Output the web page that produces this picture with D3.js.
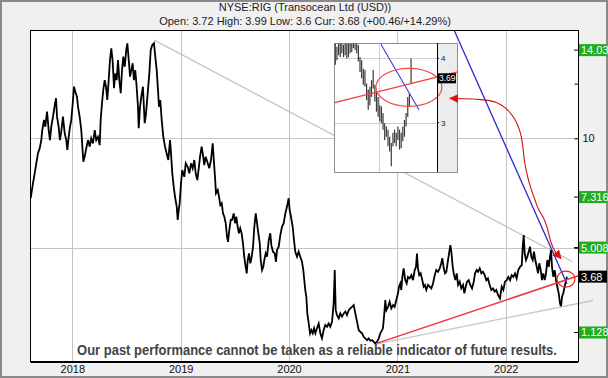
<!DOCTYPE html>
<html>
<head>
<meta charset="utf-8">
<script src="https://cdn.jsdelivr.net/npm/d3@7"></script>
<style>
  body { margin: 0; background: #fff; }
  svg { display: block; font-family: "Liberation Sans", Arial, sans-serif; }
</style>
</head>
<body>
<div id="chart"></div>
<script>
// main series: decimal years and closing prices
const years = [
  2017.616, 2017.637, 2017.653, 2017.668, 2017.683, 2017.699, 2017.714, 2017.723, 2017.739, 2017.751,
  2017.767, 2017.782, 2017.794, 2017.806, 2017.822, 2017.838, 2017.850, 2017.859, 2017.874, 2017.886,
  2017.898, 2017.914, 2017.930, 2017.945, 2017.954, 2017.967, 2017.979, 2017.991, 2018.004, 2018.016,
  2018.028, 2018.043, 2018.053, 2018.068, 2018.083, 2018.092, 2018.102, 2018.114, 2018.129, 2018.145,
  2018.161, 2018.175, 2018.191, 2018.207, 2018.221, 2018.237, 2018.253, 2018.262, 2018.274, 2018.286,
  2018.299, 2018.311, 2018.323, 2018.336, 2018.348, 2018.360, 2018.373, 2018.385, 2018.397, 2018.410,
  2018.422, 2018.434, 2018.447, 2018.459, 2018.471, 2018.484, 2018.498, 2018.508, 2018.521, 2018.533,
  2018.545, 2018.557, 2018.569, 2018.581, 2018.594, 2018.606, 2018.613, 2018.625, 2018.637, 2018.652,
  2018.668, 2018.677, 2018.683, 2018.711, 2018.724, 2018.738, 2018.754, 2018.766, 2018.779, 2018.791,
  2018.800, 2018.812, 2018.825, 2018.840, 2018.856, 2018.871, 2018.886, 2018.902, 2018.911, 2018.923,
  2018.936, 2018.948, 2018.964, 2018.973, 2018.982, 2018.991, 2019.003, 2019.015, 2019.034, 2019.047,
  2019.065, 2019.080, 2019.096, 2019.111, 2019.126, 2019.139, 2019.154, 2019.167, 2019.179, 2019.194,
  2019.206, 2019.218, 2019.231, 2019.250, 2019.264, 2019.280, 2019.296, 2019.308, 2019.317, 2019.326,
  2019.342, 2019.354, 2019.366, 2019.379, 2019.391, 2019.403, 2019.416, 2019.428, 2019.437, 2019.449,
  2019.462, 2019.474, 2019.490, 2019.502, 2019.514, 2019.526, 2019.538, 2019.550, 2019.563, 2019.575,
  2019.587, 2019.600, 2019.610, 2019.619, 2019.631, 2019.643, 2019.656, 2019.668, 2019.680, 2019.693,
  2019.705, 2019.717, 2019.730, 2019.739, 2019.751, 2019.763, 2019.772, 2019.785, 2019.797, 2019.813,
  2019.827, 2019.837, 2019.852, 2019.868, 2019.880, 2019.889, 2019.905, 2019.920, 2019.935, 2019.951,
  2019.966, 2019.981, 2019.997, 2020.006, 2020.018, 2020.034, 2020.046, 2020.058, 2020.074, 2020.089,
  2020.104, 2020.120, 2020.132, 2020.141, 2020.150, 2020.160, 2020.169, 2020.182, 2020.194, 2020.206,
  2020.219, 2020.231, 2020.243, 2020.258, 2020.274, 2020.289, 2020.304, 2020.320, 2020.335, 2020.351,
  2020.366, 2020.381, 2020.397, 2020.412, 2020.422, 2020.431, 2020.443, 2020.459, 2020.473, 2020.489,
  2020.505, 2020.520, 2020.535, 2020.551, 2020.566, 2020.581, 2020.597, 2020.612, 2020.628, 2020.643,
  2020.658, 2020.674, 2020.689, 2020.704, 2020.720, 2020.735, 2020.750, 2020.766, 2020.782, 2020.796,
  2020.812, 2020.828, 2020.843, 2020.867, 2020.877, 2020.889, 2020.898, 2020.914, 2020.929, 2020.944,
  2020.960, 2020.975, 2020.990, 2021.006, 2021.015, 2021.027, 2021.036, 2021.046, 2021.058, 2021.073,
  2021.086, 2021.098, 2021.114, 2021.129, 2021.144, 2021.160, 2021.172, 2021.181, 2021.190, 2021.202,
  2021.215, 2021.230, 2021.243, 2021.255, 2021.267, 2021.283, 2021.298, 2021.313, 2021.329, 2021.345,
  2021.359, 2021.375, 2021.391, 2021.405, 2021.415, 2021.428, 2021.440, 2021.452, 2021.465, 2021.477,
  2021.489, 2021.498, 2021.511, 2021.523, 2021.535, 2021.548, 2021.560, 2021.575, 2021.590, 2021.606,
  2021.618, 2021.631, 2021.643, 2021.658, 2021.673, 2021.689, 2021.705, 2021.717, 2021.732, 2021.744,
  2021.760, 2021.775, 2021.790, 2021.806, 2021.821, 2021.836, 2021.852, 2021.867, 2021.883, 2021.898,
  2021.913, 2021.929, 2021.947, 2021.963, 2021.978, 2021.993, 2022.009, 2022.024, 2022.040, 2022.055,
  2022.070, 2022.086, 2022.101, 2022.116, 2022.132, 2022.148, 2022.157, 2022.166, 2022.175, 2022.187,
  2022.199, 2022.212, 2022.224, 2022.236, 2022.249, 2022.261, 2022.273, 2022.286, 2022.298, 2022.310,
  2022.323, 2022.335, 2022.347, 2022.360, 2022.372, 2022.384, 2022.397, 2022.409, 2022.418, 2022.427,
  2022.439, 2022.452, 2022.464, 2022.476, 2022.489, 2022.501, 2022.510, 2022.520, 2022.531, 2022.544,
  2022.556, 2022.566
];
const prices = [
  7.26, 7.94, 8.40, 8.86, 9.31, 9.54, 9.92, 10.38, 10.84, 10.53,
  11.22, 10.38, 9.92, 10.53, 10.99, 11.52, 11.83, 10.99, 10.53, 9.92,
  10.30, 10.99, 10.23, 9.92, 9.47, 10.07, 10.53, 10.84, 11.60, 12.36,
  12.13, 11.90, 11.44, 10.99, 10.38, 9.69, 8.93, 9.16, 9.54, 9.92,
  9.62, 10.00, 9.77, 10.38, 9.92, 10.07, 9.69, 10.84, 11.60, 12.21,
  12.66, 12.36, 11.75, 12.66, 13.58, 14.11, 13.50, 12.29, 12.97, 12.66,
  13.58, 12.66, 12.06, 13.12, 13.73, 13.27, 14.04, 14.34, 13.58, 12.82,
  13.12, 13.43, 12.66, 13.12, 12.36, 11.44, 10.46, 11.44, 11.90, 12.36,
  10.69, 10.99, 11.29, 12.97, 14.04, 14.26, 14.34, 13.73, 13.12, 12.21,
  11.44, 11.75, 10.84, 10.07, 9.62, 9.31, 9.01, 9.92, 9.31, 8.40,
  7.79, 7.33, 6.87, 6.27, 6.72, 7.03, 7.94, 8.55, 8.24, 8.86,
  8.70, 8.40, 8.86, 8.63, 9.01, 8.40, 8.09, 8.63, 9.16, 9.62,
  9.24, 8.78, 9.16, 8.86, 8.63, 9.01, 9.77, 8.86, 8.24, 7.49,
  7.64, 7.33, 6.95, 7.03, 6.57, 6.42, 6.12, 5.50, 5.27, 5.81,
  6.27, 6.27, 6.57, 6.12, 6.42, 5.96, 5.66, 5.89, 5.66, 5.20,
  4.59, 4.13, 3.83, 4.44, 4.74, 4.29, 4.59, 5.05, 5.96, 6.57,
  6.12, 5.66, 5.20, 4.44, 3.98, 4.13, 4.44, 4.74, 4.59, 5.35,
  5.66, 5.12, 4.82, 4.74, 4.36, 4.89, 5.05, 5.58, 5.96, 6.12,
  6.57, 6.87, 7.26, 6.72, 6.42, 5.96, 5.35, 4.82, 4.59, 4.82,
  4.59, 4.36, 3.98, 3.52, 3.07, 2.76, 2.00, 1.54, 1.09, 1.24,
  1.09, 1.32, 1.09, 1.32, 1.54, 1.09, 0.86, 1.24, 1.47, 1.39,
  1.54, 1.39, 1.62, 2.46, 3.98, 2.15, 1.92, 1.77, 2.00, 1.85,
  2.00, 2.08, 1.92, 2.15, 2.23, 2.30, 2.38, 2.00, 1.62, 1.24,
  1.16, 1.09, 0.93, 0.86, 0.78, 0.86, 0.75, 0.78, 0.70, 0.63,
  0.70, 0.86, 1.09, 1.32, 1.85, 2.61, 2.15, 2.30, 2.53, 2.23,
  2.38, 2.30, 2.61, 2.92, 3.22, 3.37, 3.07, 3.67, 4.06, 3.52,
  3.37, 3.67, 3.60, 3.75, 3.52, 3.98, 4.13, 4.74, 4.06, 3.75,
  3.83, 3.52, 3.22, 3.30, 3.07, 3.30, 3.22, 3.14, 3.37, 3.75,
  3.98, 3.90, 4.06, 4.29, 4.52, 4.06, 3.83, 3.90, 4.36, 4.74,
  5.12, 4.82, 4.13, 3.75, 3.52, 3.83, 3.30, 3.45, 3.14, 3.30,
  2.92, 3.22, 3.45, 3.52, 3.30, 3.14, 3.45, 3.83, 3.98, 3.90,
  4.06, 3.83, 3.90, 3.75, 3.52, 3.60, 3.30, 3.07, 3.14, 2.99,
  3.07, 2.84, 2.69, 3.22, 3.07, 3.45, 3.52, 3.67, 3.52, 3.75,
  3.67, 3.83, 3.60, 3.98, 4.13, 4.21, 5.05, 5.58, 4.74, 4.44,
  4.59, 4.82, 5.05, 4.59, 4.44, 4.82, 4.44, 4.13, 3.83, 4.29,
  3.98, 3.52, 3.83, 3.52, 3.83, 4.44, 4.13, 4.59, 4.89, 4.13,
  3.67, 3.98, 3.52, 3.22, 2.92, 2.46, 2.30, 2.76, 2.92, 3.22,
  3.52, 3.68
];

// inset: last daily bars (high / low)
const insetHigh = [
  4.23, 4.18, 4.23, 4.23, 4.23, 4.21, 4.23, 4.23, 4.23, 4.23,
  4.23, 4.23, 4.23, 4.23, 4.21, 4.02, 3.97, 3.84, 3.82, 3.61,
  3.51, 3.56, 3.66, 3.82, 3.59, 3.48, 3.40, 3.27, 3.25, 3.15,
  2.99, 2.94, 2.89, 2.78, 2.68, 2.84, 2.89, 2.84, 2.94, 2.89,
  2.84, 2.94, 3.04, 3.15, 3.40, 3.46, 4.00
];
const insetLow = [
  3.90, 3.97, 4.05, 4.02, 4.08, 4.02, 4.05, 4.00, 4.02, 4.08,
  4.10, 4.16, 4.13, 4.08, 3.95, 3.79, 3.69, 3.59, 3.56, 3.35,
  3.20, 3.27, 3.40, 3.53, 3.33, 3.17, 3.09, 3.02, 2.99, 2.89,
  2.73, 2.78, 2.63, 2.55, 2.32, 2.63, 2.68, 2.63, 2.73, 2.58,
  2.60, 2.71, 2.78, 2.94, 3.09, 3.25, 3.61
];
const insetLast = "3.69";
const insetTicks = [3, 4];
const insetMonthStart = [26.5];

// axis and level labels
const yearTicks = [2018, 2019, 2020, 2021, 2022];
const gridPrices = [5, 10];
const axisTicks = [5, 10, 12.5];
const axisLabelled = [10];
const levelValues = [14.03, 7.316, 5.008, 1.128];
const levelLabels = ["14.03", "7.316", "5.008", "1.128"];
const currentPrice = 3.68;

// drawn trend lines, [year, price]
const upperGray = [[2018.757, 14.49], [2022.618, 4.36]];
const lowerGray = [[2020.803, 0.60], [2022.806, 2.59]];
const redTrend = [[2020.809, 0.63], [2022.732, 3.82]];
const blueTrend = [[2021.48, 15.43], [2022.566, 3.34]];
const redCurve = [
  [2021.486, 11.83], [2021.809, 11.78], [2021.917, 11.67], [2022.009, 11.37],
  [2022.086, 10.91], [2022.132, 10.38], [2022.157, 9.77], [2022.169, 9.01],
  [2022.194, 8.40], [2022.225, 7.79], [2022.271, 7.18], [2022.301, 6.72],
  [2022.347, 6.42], [2022.384, 5.96], [2022.415, 5.20], [2022.455, 4.82],
  [2022.510, 4.51]
];
const ring = [2022.556, 3.57];

// inset drawn lines, [bar index, price]
const insetBlue = [[27.7, 4.22], [50.8, 3.20]];
const insetRed = [[-0.4, 3.31], [74.3, 3.79]];
const insetRing = [44.7, 3.55];

const W = 608, H = 378;
const plot = { left: 31, right: 578, top: 30, bottom: 362 };

const svg = d3.select("#chart").append("svg")
  .attr("width", W).attr("height", H);

const defs = svg.append("defs");
defs.append("clipPath").attr("id", "plotClip").append("rect")
  .attr("x", plot.left).attr("y", plot.top)
  .attr("width", plot.right - plot.left).attr("height", plot.bottom - plot.top);
defs.append("marker")
  .attr("id", "arrow")
  .attr("viewBox", "0 0 10 10")
  .attr("refX", 9).attr("refY", 5)
  .attr("markerWidth", 9).attr("markerHeight", 9)
  .attr("markerUnits", "userSpaceOnUse")
  .attr("orient", "auto-start-reverse")
  .append("path").attr("d", "M0,0 L10,5 L0,10 Z").attr("fill", "#e01010");

// frame
svg.append("rect").attr("x", 1).attr("y", 1).attr("width", W - 2).attr("height", H - 2)
  .attr("fill", "#f0f0f0").attr("stroke", "#8a8a8a").attr("stroke-width", 2);
svg.append("rect").attr("x", plot.left).attr("y", plot.top)
  .attr("width", plot.right - plot.left).attr("height", plot.bottom - plot.top)
  .attr("fill", "#fff");

// title
svg.append("text").attr("x", 305).attr("y", 11).attr("text-anchor", "middle")
  .style("font-size", "11px").attr("fill", "#222").text("NYSE:RIG (Transocean Ltd (USD))");
svg.append("text").attr("x", 305).attr("y", 25).attr("text-anchor", "middle")
  .style("font-size", "11px").attr("fill", "#222")
  .text("Open: 3.72 High: 3.99 Low: 3.6 Cur: 3.68 (+00.46/+14.29%)");

// scales
const x = d3.scaleLinear().domain([2017.619, 2022.667]).range([plot.left, plot.right]);
const y = d3.scaleLinear().domain([-0.22, 14.95]).range([plot.bottom, plot.top]);

// grid
const grid = svg.append("g").attr("stroke", "#c4c4c4").attr("stroke-width", 1);
grid.selectAll("line.v").data(yearTicks).join("line").attr("class", "v")
  .attr("x1", d => Math.round(x(d)) + 0.5).attr("x2", d => Math.round(x(d)) + 0.5)
  .attr("y1", plot.top).attr("y2", plot.bottom);
grid.selectAll("line.h").data(gridPrices).join("line").attr("class", "h")
  .attr("x1", plot.left).attr("x2", plot.right)
  .attr("y1", d => Math.round(y(d)) + 0.5).attr("y2", d => Math.round(y(d)) + 0.5);

const line = d3.line().x(d => x(d[0])).y(d => y(d[1]));
const clipped = svg.append("g").attr("clip-path", "url(#plotClip)");

// upper gray trend line
clipped.append("path").attr("d", line(upperGray))
  .attr("stroke", "#c9c5ba").attr("stroke-width", 1.3).attr("fill", "none");

// price
const series = years.map((yr, i) => [yr, prices[i]]);
clipped.append("path").attr("d", line(series))
  .attr("fill", "none").attr("stroke", "#000").attr("stroke-width", 1.8)
  .attr("stroke-linejoin", "miter");

// lower gray and red support lines
svg.append("path").attr("d", line(lowerGray))
  .attr("stroke", "#c9c5ba").attr("stroke-width", 1.3).attr("fill", "none");
svg.append("path").attr("d", line(redTrend))
  .attr("stroke", "#ee3535").attr("stroke-width", 1.5).attr("fill", "none");
clipped.append("path").attr("d", line(blueTrend))
  .attr("stroke", "#2c2cd0").attr("stroke-width", 1.3).attr("fill", "none");

// axes borders
const border = svg.append("g").attr("stroke", "#000");
border.append("line").attr("x1", plot.left - 0.5).attr("x2", plot.right).attr("y1", plot.top + 0.5).attr("y2", plot.top + 0.5);
border.append("line").attr("x1", plot.left - 0.5).attr("x2", plot.left - 0.5).attr("y1", plot.top).attr("y2", plot.bottom);
border.append("line").attr("x1", plot.left - 0.5).attr("x2", plot.right).attr("y1", plot.bottom).attr("y2", plot.bottom).attr("stroke-width", 2);

// bottom axis labels
const xAxis = svg.append("g").attr("transform", `translate(0,${plot.bottom})`)
  .call(d3.axisBottom(x).tickValues(yearTicks).tickFormat(d3.format("d")).tickSize(0).tickPadding(3));
xAxis.select(".domain").remove();
xAxis.selectAll("text").style("font-size", "11px").attr("fill", "#111")
  .style("font-family", "Liberation Sans, Arial, sans-serif");

// right axis
const yAxis = svg.append("g").attr("transform", `translate(${plot.right + 0.5},0)`)
  .call(d3.axisRight(y).tickValues(axisTicks).tickSizeInner(-4).tickSizeOuter(0).tickPadding(4)
    .tickFormat(d => axisLabelled.includes(d) ? d3.format("d")(d) : ""));
yAxis.select(".domain").attr("d", `M0,${plot.top}V${plot.bottom}`).attr("stroke", "#000");
yAxis.selectAll("text").style("font-size", "11px").attr("fill", "#111")
  .style("font-family", "Liberation Sans, Arial, sans-serif");

// level boxes
const levels = svg.append("g");
levelValues.forEach((v, i) => {
  const yy = y(v);
  levels.append("line").attr("x1", plot.right - 4).attr("x2", plot.right).attr("y1", yy).attr("y2", yy).attr("stroke", "#000");
  levels.append("rect").attr("x", plot.right + 1).attr("y", yy - 6).attr("width", 28).attr("height", 12).attr("fill", "#1fae1f");
  levels.append("text").attr("x", plot.right + 3).attr("y", yy + 4).attr("fill", "#fff")
    .style("font-size", "11px").text(levelLabels[i]);
});
levels.append("rect").attr("x", plot.right + 1).attr("y", y(currentPrice) - 6).attr("width", 28).attr("height", 12).attr("fill", "#000");
levels.append("text").attr("x", plot.right + 3).attr("y", y(currentPrice) + 4).attr("fill", "#fff")
  .style("font-size", "11px").text(d3.format(".2f")(currentPrice));

// red ring at the end
svg.append("ellipse").attr("cx", x(ring[0])).attr("cy", y(ring[1])).attr("rx", 9).attr("ry", 8)
  .attr("fill", "none").attr("stroke", "#e82020").attr("stroke-width", 1.2);

// footer disclaimer, squeezed horizontally to the reference width
const footer = svg.append("g");
const footerText = footer.append("text").attr("x", 0).attr("y", 0).attr("text-anchor", "middle")
  .style("font-size", "15px").style("font-weight", "bold").attr("fill", "#444")
  .text("Our past performance cannot be taken as a reliable indicator of future results.");
const squeeze = 480 / footerText.node().getComputedTextLength();
footer.attr("transform", `translate(317,354.5) scale(${squeeze},1)`);

// inset chart
const inset = { left: 334, right: 437, strip: 457, top: 43, bottom: 172 };
const ix = d3.scaleLinear().domain([0, 62]).range([335.3, 437.4]);
const iy = d3.scaleLinear().domain([2.23, 4.24]).range([inset.bottom, inset.top]);
const ig = svg.append("g");
defs.append("clipPath").attr("id", "insetClip").append("rect")
  .attr("x", inset.left).attr("y", inset.top).attr("width", inset.right - inset.left).attr("height", inset.bottom - inset.top);
ig.append("rect").attr("x", inset.left + 0.5).attr("y", inset.top + 0.5)
  .attr("width", inset.strip - inset.left).attr("height", inset.bottom - inset.top)
  .attr("fill", "#fff").attr("stroke", "#8c8c8c");
ig.append("rect").attr("x", inset.right).attr("y", inset.top + 1)
  .attr("width", inset.strip - inset.right).attr("height", inset.bottom - inset.top - 1).attr("fill", "#ececec");
ig.selectAll("line.ih").data(insetTicks).join("line").attr("class", "ih")
  .attr("x1", inset.left + 1).attr("x2", inset.right)
  .attr("y1", d => Math.round(iy(d)) + 0.5).attr("y2", d => Math.round(iy(d)) + 0.5)
  .attr("stroke", "#cfcfcf");
ig.selectAll("line.iv").data(insetMonthStart).join("line").attr("class", "iv")
  .attr("x1", d => Math.round(ix(d)) + 0.5).attr("x2", d => Math.round(ix(d)) + 0.5)
  .attr("y1", inset.top + 1).attr("y2", inset.bottom).attr("stroke", "#cfcfcf");
const ibars = ig.append("g").attr("clip-path", "url(#insetClip)");
ibars.selectAll("line").data(insetHigh).join("line")
  .attr("x1", (d, i) => ix(i)).attr("x2", (d, i) => ix(i))
  .attr("y1", d => iy(d)).attr("y2", (d, i) => iy(insetLow[i]))
  .attr("stroke", "#3a3a3a").attr("stroke-width", 1.2);
const iline = d3.line().x(d => ix(d[0])).y(d => iy(d[1]));
ibars.append("path").attr("d", iline(insetBlue)).attr("stroke", "#3a3ad8").attr("stroke-width", 1.1).attr("fill", "none");
ig.append("path").attr("d", iline(insetRed)).attr("stroke", "#f04040").attr("stroke-width", 1.2).attr("fill", "none");
ig.append("ellipse").attr("cx", ix(insetRing[0])).attr("cy", iy(insetRing[1])).attr("rx", 33).attr("ry", 19)
  .attr("fill", "none").attr("stroke", "#f04848").attr("stroke-width", 1.2);
ig.append("line").attr("x1", inset.right + 0.5).attr("x2", inset.right + 0.5)
  .attr("y1", inset.top).attr("y2", inset.bottom).attr("stroke", "#000");
ig.selectAll("text.it").data(insetTicks).join("text").attr("class", "it")
  .attr("x", inset.right + 4).attr("y", d => iy(d) + 3)
  .style("font-size", "8px").attr("fill", "#222").text(d => d);
ig.selectAll("line.itk").data(insetTicks).join("line").attr("class", "itk")
  .attr("x1", inset.right).attr("x2", inset.right + 2).attr("y1", d => iy(d)).attr("y2", d => iy(d)).attr("stroke", "#000");
ig.append("rect").attr("x", inset.right + 1).attr("y", iy(+insetLast) - 5).attr("width", 18).attr("height", 10).attr("fill", "#000");
ig.append("text").attr("x", inset.right + 2).attr("y", iy(+insetLast) + 3).attr("fill", "#fff")
  .style("font-size", "8.5px").text(insetLast);

// hand-drawn arrow from inset to last price
svg.append("path").attr("d", d3.line().x(d => x(d[0])).y(d => y(d[1])).curve(d3.curveBasis)(redCurve))
  .attr("fill", "none").attr("stroke", "#d01010").attr("stroke-width", 1.1)
  .attr("marker-start", "url(#arrow)").attr("marker-end", "url(#arrow)");
</script>
</body>
</html>
